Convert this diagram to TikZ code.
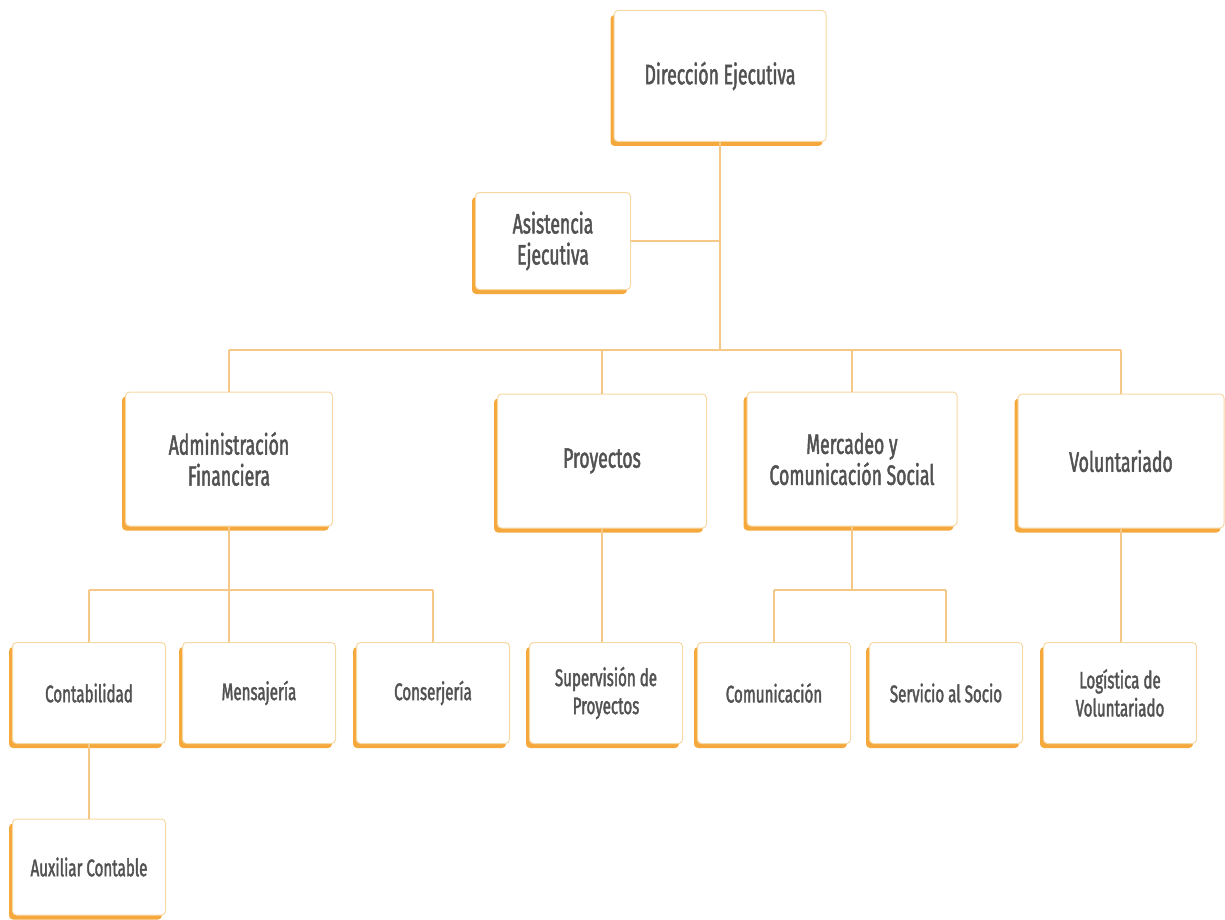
\documentclass[tikz,border=0pt]{standalone}
\usepackage{fontspec}
\setmainfont{Fira Sans}[FakeStretch=0.63, FakeBold=1.6]
\usetikzlibrary{shadows}
\definecolor{shad}{HTML}{F5A83C}
\definecolor{bord}{HTML}{F8D8A4}
\definecolor{conn}{HTML}{F6C888}
\definecolor{txt}{HTML}{525252}
\tikzset{
  orgbox/.style={draw=bord, line width=1pt, fill=white, rounded corners=4pt,
    general shadow={fill=shad, shadow xshift=-3.5pt, shadow yshift=-4.5pt},
    text=txt, align=center, inner sep=2pt},
  bigbox/.style={orgbox, font=\fontsize{28}{31}\selectfont},
  smallbox/.style={orgbox, font=\fontsize{24}{28}\selectfont, minimum width=153pt, minimum height=101pt},
  link/.style={draw=conn, line width=1.2pt}
}
\begin{document}
\begin{tikzpicture}[x=1pt,y=-1pt]
\useasboundingbox (0,0) rectangle (1225,920);
% level 1
\node[bigbox, minimum width=212pt, minimum height=131pt] (dir) at (720,76) {Dirección Ejecutiva};
\node[bigbox, minimum width=155pt, minimum height=97pt] (asis) at (553,241) {Asistencia\\Ejecutiva};
% level 2
\node[bigbox, minimum width=207pt, minimum height=134pt] (adm) at (229,459) {Administración\\Financiera};
\node[bigbox, minimum width=209pt, minimum height=134pt] (pro) at (602,461) {Proyectos};
\node[bigbox, minimum width=210pt, minimum height=134pt] (mer) at (852,459) {Mercadeo y\\Comunicación Social};
\node[bigbox, minimum width=206pt, minimum height=134pt] (vol) at (1121,461) {Voluntariado};
% level 3
\node[smallbox] (con) at (89,693) {Contabilidad};
\node[smallbox] (men) at (259,693) {Mensajería};
\node[smallbox] (cons) at (433,693) {Conserjería};
\node[smallbox] (sup) at (606,693) {Supervisión de\\Proyectos};
\node[smallbox] (com) at (774,693) {Comunicación};
\node[smallbox] (ser) at (946,693) {Servicio al Socio};
\node[smallbox] (log) at (1120,693) {Logística de\\Voluntariado};
% level 4
\node[smallbox, minimum height=96pt] (aux) at (89,867) {Auxiliar Contable};
% helper coordinates
\coordinate (bus) at (0,350);
\coordinate (busA) at (0,590);
\coordinate (trunk) at (720,350);
% connectors
\draw[link] (dir.south) -- (trunk);
\draw[link] (asis.east) -- (asis.east -| dir.south);
\draw[link] (adm.north |- bus) -- (vol.north |- bus);
\draw[link] (adm.north) -- (adm.north |- bus);
\draw[link] (pro.north) -- (pro.north |- bus);
\draw[link] (mer.north) -- (mer.north |- bus);
\draw[link] (vol.north) -- (vol.north |- bus);
\draw[link] (adm.south) -- (adm.south |- busA);
\draw[link] (con.north |- busA) -- (cons.north |- busA);
\draw[link] (con.north) -- (con.north |- busA);
\draw[link] (men.north -| adm.south) -- (adm.south |- busA);
\draw[link] (cons.north) -- (cons.north |- busA);
\draw[link] (pro.south) -- (sup.north -| pro.south);
\draw[link] (mer.south) -- (mer.south |- busA);
\draw[link] (com.north |- busA) -- (ser.north |- busA);
\draw[link] (com.north) -- (com.north |- busA);
\draw[link] (ser.north) -- (ser.north |- busA);
\draw[link] (vol.south) -- (log.north -| vol.south);
\draw[link] (con.south) -- (aux.north);
\end{tikzpicture}
\end{document}
